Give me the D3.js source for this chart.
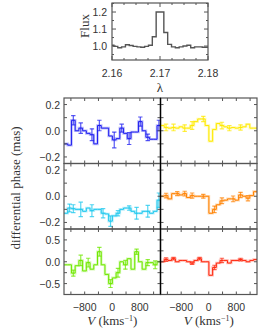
<!DOCTYPE html>
<html>
<head>
<meta charset="utf-8">
<script src="https://d3js.org/d3.v7.min.js"></script>
<style>
  body { margin: 0; background: white; }
  .num { font-family: 'Liberation Sans', Arial, sans-serif; font-size: 10.5px; fill: #333; }
  .lab { font-family: 'Liberation Serif', 'Times New Roman', serif; font-size: 13px; fill: #333; }
</style>
</head>
<body>
<script>
// ---- data ----
// flux spectrum (bin left edges in micron)
const lambda = [2.1596, 2.1604, 2.1612, 2.1620, 2.1628, 2.1636, 2.1644, 2.1652, 2.1660, 2.1668,
                2.1676, 2.1684, 2.1692, 2.1700, 2.1708, 2.1716, 2.1724, 2.1732, 2.1740, 2.1748,
                2.1756, 2.1764, 2.1772, 2.1780, 2.1788, 2.1796];
const flux = [1.005, 0.998, 0.99, 0.995, 1.008, 1.003, 0.998, 0.995, 0.993, 0.998,
              1.005, 1.055, 1.2, 1.2, 1.08, 1.01, 0.995, 0.99, 0.995, 1.0,
              1.005, 0.99, 0.995, 0.995, 0.993, 0.993];
const lambdaTicks = [2.16, 2.17, 2.18];
const fluxTicks = [1.0, 1.1, 1.2];

// velocity bins (left edges, km/s)
const vel = [-1400, -1292, -1184, -1076, -968, -860, -752, -644, -536, -428, -320, -212, -104,
             4, 112, 220, 328, 436, 544, 652, 760, 868, 976, 1084, 1192, 1300];
const binW = 108;
const velTicks = [-800, 0, 800];

const blue   = [-0.10, -0.11, 0.08, 0.0, 0.02, 0.0, -0.02, -0.03, -0.10, 0.04, 0.02, 0.02, -0.04,
                -0.07, -0.06, 0.02, -0.02, -0.06, -0.01, -0.01, 0.07, 0.0, -0.05, -0.065, -0.065, 0.04];
const blueErr = [0, 0, 0.035, 0, 0.04, 0, 0, 0.045, 0, 0.04, 0, 0, 0,
                 0.06, 0, 0.03, 0, 0.045, 0, 0, 0.035, 0, 0.025, 0, 0, 0.04];
const yellow = [0.04, 0.025, 0.02, 0.025, 0.02, 0.03, 0.02, 0.02, 0.04, 0.07, 0.09, 0.09, 0.04,
                -0.08, 0.01, 0.055, 0.04, 0.03, 0.02, 0.025, 0.02, 0.025, 0.03, 0.05, 0.02, 0.02];
const yellowErr = [0, 0.025, 0, 0.025, 0, 0, 0.025, 0, 0.03, 0, 0, 0.02, 0,
                   0, 0, 0, 0.025, 0, 0.02, 0, 0, 0.02, 0, 0, 0, 0];
const cyan   = [-0.13, -0.09, -0.095, -0.10, -0.10, -0.115, -0.09, -0.11, -0.10, -0.10, -0.13, -0.135, -0.19,
                -0.15, -0.13, -0.10, -0.09, -0.09, -0.115, -0.13, -0.13, -0.115, -0.115, -0.13, -0.115, -0.03];
const cyanErr = [0, 0.03, 0.03, 0, 0.055, 0, 0, 0.045, 0, 0, 0.035, 0, 0.04,
                 0, 0.02, 0, 0, 0.017, 0, 0.045, 0, 0, 0.045, 0, 0, 0.055];
const orange = [0.0, 0.005, -0.02, 0.02, 0.02, 0.01, 0.02, -0.01, 0.005, 0.0, 0.0, 0.0, 0.0,
                -0.13, -0.10, -0.065, -0.035, -0.03, -0.02, -0.02, -0.03, 0.01, 0.0, -0.015, 0.005, 0.035];
const orangeErr = [0, 0.018, 0, 0, 0.015, 0, 0.018, 0, 0.02, 0, 0, 0.015, 0,
                   0, 0.025, 0, 0.022, 0, 0, 0.022, 0, 0.02, 0, 0.02, 0, 0];
const green  = [-0.07, -0.07, -0.26, -0.09, 0.03, -0.21, -0.02, -0.17, -0.07, 0.23, -0.07, -0.29, -0.5,
                -0.37, -0.25, 0.0, -0.07, 0.07, -0.17, 0.23, 0.0, -0.17, -0.02, -0.02, -0.07, 0.0];
const greenErr = [0, 0, 0.07, 0, 0.12, 0, 0.1, 0, 0, 0.1, 0, 0, 0.09,
                  0, 0.1, 0, 0.1, 0, 0, 0.06, 0, 0, 0.07, 0, 0.09, 0];
const red    = [0.0, 0.05, 0.03, 0.07, 0.0, 0.03, 0.03, 0.0, -0.03, 0.03, 0.07, 0.0, 0.0,
                -0.31, -0.13, -0.03, 0.03, 0.03, -0.03, 0.03, 0.03, 0.05, 0.03, 0.0, 0.03, 0.05];
const redErr = [0, 0.04, 0, 0.03, 0, 0, 0, 0, 0.03, 0, 0.03, 0, 0,
                0, 0.05, 0, 0.05, 0, 0, 0, 0, 0.03, 0, 0, 0, 0];

// row settings: y domain, ticks, labelled ticks
const rowDomain = [[-0.25, 0.25], [-0.25, 0.25], [-0.75, 0.75]];
const rowTicks = [[-0.2, -0.1, 0, 0.1, 0.2], [-0.2, -0.1, 0, 0.1, 0.2], [-0.5, -0.25, 0, 0.25, 0.5]];
const rowLabels = [[-0.2, 0, 0.2], [-0.2, 0, 0.2], [-0.5, 0, 0.5]];

const width = 270;
const height = 328;
const frame = "#555";

const svg = d3.select("body").append("svg").attr("width", width).attr("height", height);
const defs = svg.append("defs");

function fmt(d) { return d3.format(".1f")(d).replace("-", "\u2212").replace("\u22120.0", "0.0"); }

// ---- top flux panel ----
const fx = d3.scaleLinear().domain([2.16, 2.18]).range([112, 208]);
const fy = d3.scaleLinear().domain([0.918, 1.253]).range([60, 3]);

defs.append("clipPath").attr("id", "clipTop").append("rect")
  .attr("x", 112).attr("y", 3).attr("width", 96).attr("height", 57);

const fluxPts = lambda.map((l, i) => [l, flux[i]]);
fluxPts.push([lambda[lambda.length - 1] + 0.0008, flux[flux.length - 1]]);

svg.append("path")
  .attr("clip-path", "url(#clipTop)")
  .attr("d", d3.line().x(d => fx(d[0])).y(d => fy(d[1])).curve(d3.curveStepAfter)(fluxPts))
  .attr("fill", "none").attr("stroke", "#555").attr("stroke-width", 1.4);

// inward ticks
const topMinor = d3.range(2.16, 2.1801, 0.0025);
topMinor.forEach(t => {
  const len = lambdaTicks.some(m => Math.abs(m - t) < 1e-6) ? 4 : 2;
  svg.append("line").attr("x1", fx(t)).attr("x2", fx(t)).attr("y1", 60).attr("y2", 60 - len).attr("stroke", frame);
  svg.append("line").attr("x1", fx(t)).attr("x2", fx(t)).attr("y1", 3).attr("y2", 3 + len).attr("stroke", frame);
});
d3.range(0.95, 1.251, 0.05).forEach(t => {
  const len = fluxTicks.some(m => Math.abs(m - t) < 1e-6) ? 4 : 2;
  svg.append("line").attr("x1", 112).attr("x2", 112 + len).attr("y1", fy(t)).attr("y2", fy(t)).attr("stroke", frame);
  svg.append("line").attr("x1", 208).attr("x2", 208 - len).attr("y1", fy(t)).attr("y2", fy(t)).attr("stroke", frame);
});
svg.append("rect").attr("x", 112).attr("y", 3).attr("width", 96).attr("height", 57)
  .attr("fill", "none").attr("stroke", frame).attr("stroke-width", 1.2);

svg.selectAll(".ftick").data(fluxTicks).enter().append("text")
  .attr("class", "num").attr("x", 107).attr("y", d => fy(d) + 4)
  .attr("text-anchor", "end").text(d => d.toFixed(1));
svg.selectAll(".ltick").data(lambdaTicks).enter().append("text")
  .attr("class", "num").attr("x", d => fx(d)).attr("y", 77)
  .attr("text-anchor", "middle").text(d => d.toFixed(2));
svg.append("text").attr("class", "lab").attr("x", 160).attr("y", 92)
  .attr("text-anchor", "middle").text("\u03bb");
svg.append("text").attr("class", "lab").attr("transform", "translate(89,26) rotate(-90)")
  .attr("text-anchor", "middle").text("Flux");

// ---- phase panels ----
const cols = [[64, 160.5], [160.5, 257]];
const rowsY = [98, 163.5, 229, 294.5];

const panels = [
  {row: 0, col: 0, v: blue, e: blueErr, c: "#2020f0"},
  {row: 0, col: 1, v: yellow, e: yellowErr, c: "#ffea00"},
  {row: 1, col: 0, v: cyan, e: cyanErr, c: "#1ec8ee"},
  {row: 1, col: 1, v: orange, e: orangeErr, c: "#ff8200"},
  {row: 2, col: 0, v: green, e: greenErr, c: "#70e800"},
  {row: 2, col: 1, v: red, e: redErr, c: "#ff2a10"}
];

panels.forEach((p, k) => {
  const x = d3.scaleLinear().domain([-1400, 1400]).range(cols[p.col]);
  const y = d3.scaleLinear().domain(rowDomain[p.row]).range([rowsY[p.row + 1], rowsY[p.row]]);
  const g = svg.append("g");

  defs.append("clipPath").attr("id", "clip" + k).append("rect")
    .attr("x", cols[p.col][0]).attr("y", rowsY[p.row])
    .attr("width", cols[p.col][1] - cols[p.col][0]).attr("height", rowsY[p.row + 1] - rowsY[p.row]);

  const pts = vel.map((d, i) => [d, p.v[i]]);
  pts.push([vel[vel.length - 1] + binW, p.v[p.v.length - 1]]);
  const line = d3.line().x(d => x(d[0])).y(d => y(d[1])).curve(d3.curveStepAfter);

  const inner = g.append("g").attr("clip-path", "url(#clip" + k + ")");
  // light halo + solid line
  inner.append("path").attr("d", line(pts)).attr("fill", "none")
    .attr("stroke", p.c).attr("stroke-opacity", 0.3).attr("stroke-width", 2.6);
  inner.append("path").attr("d", line(pts)).attr("fill", "none")
    .attr("stroke", p.c).attr("stroke-width", 1);

  // error bars
  const eb = vel.map((d, i) => ({x: d + binW / 2, v: p.v[i], e: p.e[i]})).filter(d => d.e > 0);
  eb.forEach(d => {
    const cx = x(d.x);
    inner.append("line").attr("x1", cx).attr("x2", cx).attr("y1", y(d.v - d.e)).attr("y2", y(d.v + d.e))
      .attr("stroke", p.c).attr("stroke-width", 1.2).attr("stroke-opacity", 0.75);
    [d.v - d.e, d.v + d.e].forEach(t => {
      inner.append("line").attr("x1", cx - 2.2).attr("x2", cx + 2.2).attr("y1", y(t)).attr("y2", y(t))
        .attr("stroke", p.c).attr("stroke-width", 1.2).attr("stroke-opacity", 0.75);
    });
  });

  // inward ticks
  const xt = [-1200, -800, -400, 0, 400, 800, 1200];
  xt.forEach(t => {
    g.append("line").attr("x1", x(t)).attr("x2", x(t)).attr("y1", rowsY[p.row]).attr("y2", rowsY[p.row] + 3).attr("stroke", frame);
    g.append("line").attr("x1", x(t)).attr("x2", x(t)).attr("y1", rowsY[p.row + 1]).attr("y2", rowsY[p.row + 1] - 3).attr("stroke", frame);
  });
  rowTicks[p.row].forEach(t => {
    g.append("line").attr("x1", cols[p.col][0]).attr("x2", cols[p.col][0] + 3).attr("y1", y(t)).attr("y2", y(t)).attr("stroke", frame);
    g.append("line").attr("x1", cols[p.col][1]).attr("x2", cols[p.col][1] - 3).attr("y1", y(t)).attr("y2", y(t)).attr("stroke", frame);
  });
  g.append("rect").attr("x", cols[p.col][0]).attr("y", rowsY[p.row])
    .attr("width", cols[p.col][1] - cols[p.col][0]).attr("height", rowsY[p.row + 1] - rowsY[p.row])
    .attr("fill", "none").attr("stroke", frame).attr("stroke-width", 1.2);

  // y tick labels on the left column only
  if (p.col == 0) {
    g.selectAll("text").data(rowLabels[p.row]).enter().append("text")
      .attr("class", "num").attr("x", 60).attr("y", d => y(d) + 4)
      .attr("text-anchor", "end").text(d => fmt(d));
  }
  // x tick labels on the bottom row
  if (p.row == 2) {
    svg.selectAll(".vt" + k).data(velTicks).enter().append("text")
      .attr("class", "num").attr("x", d => x(d)).attr("y", 311)
      .attr("text-anchor", "middle").text(d => String(d).replace("-", "\u2212"));
    const lab = svg.append("text").attr("class", "lab").attr("x", x(0)).attr("y", 325).attr("text-anchor", "middle");
    lab.append("tspan").attr("font-style", "italic").text("V");
    lab.append("tspan").text(" (kms");
    lab.append("tspan").attr("dy", -4).attr("font-size", "8px").text("\u22121");
    lab.append("tspan").attr("dy", 4).text(")");
  }
});

// dark divider between columns
svg.append("line").attr("x1", 160.5).attr("x2", 160.5).attr("y1", 98).attr("y2", 294.5)
  .attr("stroke", "black").attr("stroke-width", 1.3);

svg.append("text").attr("class", "lab").attr("transform", "translate(20,188) rotate(-90)")
  .attr("text-anchor", "middle").text("differential phase (mas)");
</script>
</body>
</html>
